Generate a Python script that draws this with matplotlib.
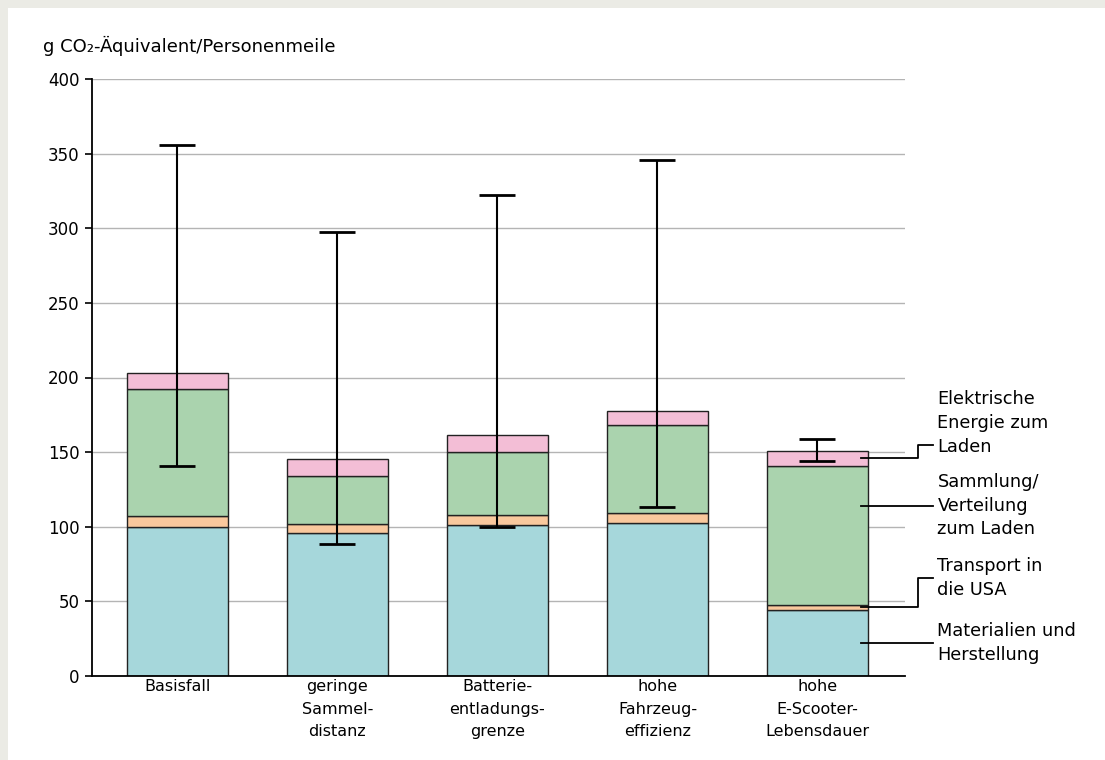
"""Stacked bar chart: CO2 footprint per passenger mile of shared e-scooters by scenario."""

import numpy as np
import matplotlib
matplotlib.use("Agg")
import matplotlib.pyplot as plt
from matplotlib.patches import Rectangle

# ---------------------------------------------------------------------------
# Data (g CO2-eq per passenger mile)
# ---------------------------------------------------------------------------

scenarios = ["Basisfall", "geringe\nSammel-\ndistanz", "Batterie-\nentladungs-\ngrenze",
             "hohe\nFahrzeug-\neffizienz", "hohe\nE-Scooter-\nLebensdauer"]
materials = [100.0, 96.0, 101.0, 102.5, 44.5]
transport = [7.0, 6.0, 7.0, 6.5, 3.0]
collection = [85.5, 32.0, 42.0, 59.0, 93.5]
electricity = [10.5, 11.5, 11.5, 9.5, 10.0]
range_low = [140.5, 88.5, 99.5, 113.5, 144.0]
range_high = [356.0, 297.5, 322.0, 345.5, 159.0]

segment_names = ["Materialien und\nHerstellung", "Transport in\ndie USA",
                 "Sammlung/\nVerteilung\nzum Laden", "Elektrische\nEnergie zum\nLaden"]
segment_colors = ["#A6D7DB", "#F9C89D", "#AAD3AE", "#F3BED6"]

y_ticks = [0, 50, 100, 150, 200, 250, 300, 350, 400]
y_label = "g CO\u2082-\u00c4quivalent/Personenmeile"

# ---------------------------------------------------------------------------
# Figure
# ---------------------------------------------------------------------------

plt.rcParams["font.family"] = ["DejaVu Sans"]

W, H = 1105, 760
fig = plt.figure(figsize=(W / 100, H / 100), dpi=100, facecolor="white")

# thin grey frame on the top and left edge
frame = "#EBEBE5"
fig.add_artist(Rectangle((0, 0), 8 / W, 1, transform=fig.transFigure,
                         color=frame, lw=0, zorder=0))
fig.add_artist(Rectangle((0, 1 - 8 / H), 1, 8 / H, transform=fig.transFigure,
                         color=frame, lw=0, zorder=0))

ax = fig.add_axes([92 / W, 84 / H, 813 / W, 597 / H])

x = np.arange(len(scenarios))
width = 0.63
series = [materials, transport, collection, electricity]
bottom = np.zeros(len(scenarios))
for vals, color in zip(series, segment_colors):
    ax.bar(x, vals, width, bottom=bottom, color=color,
           edgecolor="#222222", linewidth=1.0, zorder=2)
    bottom = bottom + np.array(vals)
totals = bottom

# uncertainty ranges
low = np.array(range_low)
high = np.array(range_high)
ax.errorbar(x, totals, yerr=[totals - low, high - totals], fmt="none",
            ecolor="black", elinewidth=1.5, capsize=13, capthick=2.0, zorder=3)

ax.set_xlim(-0.534, 4.547)
ax.set_ylim(0, 400)
ax.set_yticks(y_ticks)
ax.set_xticks(x)
ax.set_xticklabels(scenarios, fontsize=11.5, linespacing=1.65)
ax.tick_params(axis="x", length=0, pad=2)
ax.tick_params(axis="y", length=5, width=1.2, color="black", pad=4, labelsize=12)

ax.yaxis.grid(True, color="#B4B4B4", linewidth=1.0, zorder=0)
ax.set_axisbelow(True)
for side in ("top", "right"):
    ax.spines[side].set_visible(False)
for side in ("left", "bottom"):
    ax.spines[side].set_linewidth(1.3)
    ax.spines[side].set_color("black")
ax.spines["bottom"].set_zorder(4)

fig.text(43 / W, 1 - 46 / H, y_label, fontsize=13, va="center", ha="left")

# ---------------------------------------------------------------------------
# Segment labels on the right, tied to the last bar
# ---------------------------------------------------------------------------

last = len(scenarios) - 1
x0 = last + width / 2 - 0.04     # leader start, just inside the bar
x_elbow = 4.628
x_end = 4.72
x_text = 4.75

seg_bottom = np.cumsum([0] + [s[last] for s in series[:-1]])
seg_mid = [b + s[last] / 2 for b, s in zip(seg_bottom, series)]

# (segment index, leader y at the bar, leader y at the text, text block centre)
leaders = [
    (0, seg_mid[0], seg_mid[0], seg_mid[0]),
    (1, seg_mid[1], 65.5, 65.5),
    (2, 114.0, 114.0, 114.0),
    (3, seg_mid[3], 154.5, 169.5),
]
line_kw = dict(color="black", linewidth=1.3, clip_on=False, zorder=5)
for idx, y_bar, y_txt, y_block in leaders:
    if y_bar == y_txt:
        ax.plot([x0, x_end], [y_bar, y_bar], **line_kw)
    else:
        ax.plot([x0, x_elbow, x_elbow, x_end], [y_bar, y_bar, y_txt, y_txt], **line_kw)
    ax.text(x_text, y_block, segment_names[idx], fontsize=12.8, va="center",
            ha="left", linespacing=1.4, clip_on=False)

fig.savefig("out.png", dpi=100, facecolor="white")
